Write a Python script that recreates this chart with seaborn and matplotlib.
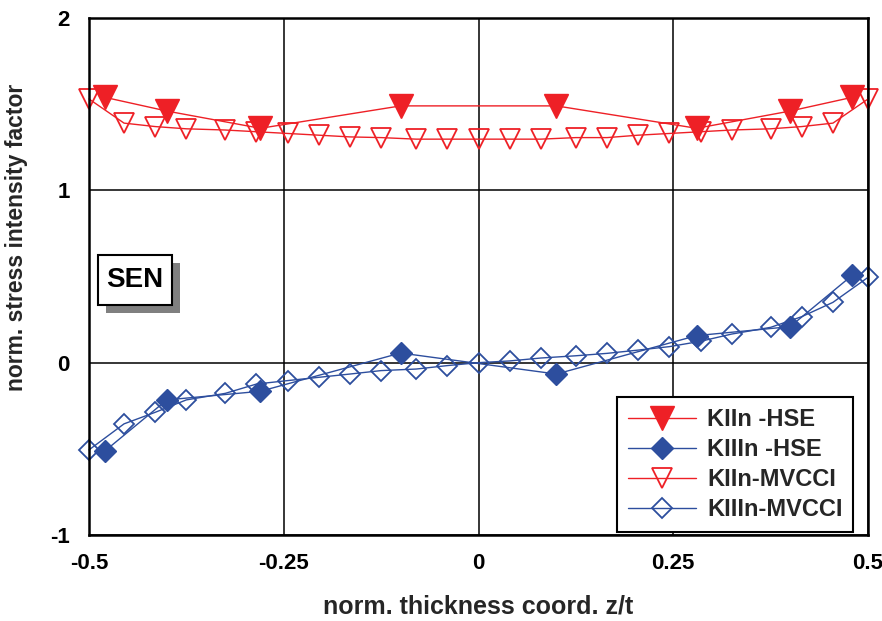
import matplotlib
matplotlib.use("Agg")
import matplotlib.pyplot as plt
import matplotlib.transforms as mtransforms
from matplotlib.patches import Rectangle
from matplotlib.ticker import FixedLocator
import seaborn as sns

# HSE results (8 positions through the thickness)
z_hse = [-0.48, -0.40, -0.28, -0.10, 0.10, 0.28, 0.40, 0.48]
k2_hse = [1.54, 1.46, 1.36, 1.49, 1.49, 1.36, 1.46, 1.54]
k3_hse = [-0.514, -0.216, -0.166, 0.056, -0.066, 0.157, 0.209, 0.508]

# MVCCI results (25 nodes through the thickness)
z_mvcci = [-0.5, -0.455, -0.415, -0.375, -0.325, -0.285, -0.245, -0.205, -0.165,
           -0.125, -0.08, -0.04, 0.0, 0.04, 0.08, 0.125, 0.165, 0.205, 0.245,
           0.285, 0.325, 0.375, 0.415, 0.455, 0.5]
k2_mvcci = [1.53, 1.39, 1.37, 1.357, 1.35, 1.34, 1.33, 1.32, 1.31, 1.306, 1.297,
            1.297, 1.297, 1.297, 1.297, 1.306, 1.306, 1.32, 1.33, 1.34, 1.35,
            1.357, 1.37, 1.39, 1.53]
k3_mvcci = [-0.506, -0.355, -0.288, -0.216, -0.178, -0.124, -0.104, -0.085, -0.066,
            -0.046, -0.037, -0.017, 0.0, 0.01, 0.027, 0.04, 0.054, 0.073, 0.093,
            0.124, 0.166, 0.205, 0.267, 0.35, 0.495]

x_ticks = [-0.5, -0.25, 0, 0.25, 0.5]
x_tick_labels = ["-0.5", "-0.25", "0", "0.25", "0.5"]
y_ticks = [-1, 0, 1, 2]
y_tick_labels = ["-1", "0", "1", "2"]

RED = "#EE2026"
BLUE = "#2D4E9E"

sns.set_style("white")
plt.rcParams["font.family"] = ["Liberation Sans", "DejaVu Sans"]
plt.rcParams["font.weight"] = "bold"

fig = plt.figure(figsize=(8.82, 6.21), dpi=100)
ax = fig.add_axes([89 / 882, 1 - 535 / 621, (868 - 89) / 882, (535 - 18) / 621])

# open markers first so the filled HSE markers sit on top
sns.lineplot(x=z_mvcci, y=k2_mvcci, ax=ax, estimator=None, sort=False,
             color=RED, lw=1.0, marker="v", markersize=15,
             markerfacecolor="none", markeredgecolor=RED, markeredgewidth=1.3)
h_k2_mv = ax.get_lines()[-1]
sns.lineplot(x=z_mvcci, y=k3_mvcci, ax=ax, estimator=None, sort=False,
             color=BLUE, lw=1.0, marker="D", markersize=10,
             markerfacecolor="none", markeredgecolor=BLUE, markeredgewidth=1.3)
h_k3_mv = ax.get_lines()[-1]
sns.lineplot(x=z_hse, y=k2_hse, ax=ax, estimator=None, sort=False,
             color=RED, lw=1.0, marker="v", markersize=17,
             markerfacecolor=RED, markeredgecolor=RED, markeredgewidth=1.0)
h_k2_hse = ax.get_lines()[-1]
sns.lineplot(x=z_hse, y=k3_hse, ax=ax, estimator=None, sort=False,
             color=BLUE, lw=1.0, marker="D", markersize=11.5,
             markerfacecolor=BLUE, markeredgecolor=BLUE, markeredgewidth=1.0)
h_k3_hse = ax.get_lines()[-1]
for ln in ax.get_lines():
    ln.set_clip_on(False)

ax.set_xlim(-0.5, 0.5)
ax.set_ylim(-1, 2)
ax.set_xticks(x_ticks)
ax.set_xticklabels(x_tick_labels)
ax.set_yticks(y_ticks)
ax.set_yticklabels(y_tick_labels)
ax.xaxis.set_minor_locator(FixedLocator([-0.375, -0.125, 0.125, 0.375]))
ax.yaxis.set_minor_locator(FixedLocator([-0.5, 0.5, 1.5]))
ax.tick_params(axis="both", which="both", direction="in", length=6, width=1.0,
               labelsize=16, colors="black")
ax.tick_params(axis="x", which="major", pad=13)
ax.tick_params(axis="y", which="major", pad=14)
for lab in ax.get_xticklabels() + ax.get_yticklabels():
    lab.set_fontweight("bold")

ax.grid(True, which="major", color="black", lw=1.1)
ax.set_axisbelow(True)
for sp in ax.spines.values():
    sp.set_visible(True)
    sp.set_color("black")
    sp.set_linewidth(1.8)

ax.set_xlabel("norm. thickness coord. z/t", fontsize=18, fontweight="bold")
ax.xaxis.label.set_verticalalignment("center")
ax.xaxis.set_label_coords(0.5, -0.139)
ax.set_ylabel("norm. stress intensity factor", fontsize=16.5, fontweight="bold")
ax.yaxis.set_label_coords(-0.078, 0.576)

leg = ax.legend(handles=[h_k2_hse, h_k3_hse, h_k2_mv, h_k3_mv],
                labels=["KIIn -HSE", "KIIIn -HSE", "KIIn-MVCCI", "KIIIn-MVCCI"],
                loc="lower right", bbox_to_anchor=(0.981, 0.006), borderaxespad=0,
                frameon=True, fancybox=False, framealpha=1, edgecolor="black",
                prop={"weight": "bold", "size": 17}, handlelength=2.9,
                labelspacing=0.3, borderpad=0.45, handletextpad=0.45)
leg.get_frame().set_linewidth(1.5)

# SEN label in a box with a grey drop shadow
shadow = mtransforms.offset_copy(ax.transAxes, fig=fig, x=8, y=-8, units="dots")
ax.add_patch(Rectangle((0.0116, 0.445), 0.095, 0.097, transform=shadow,
                       facecolor="#808080", edgecolor="none", zorder=5))
ax.add_patch(Rectangle((0.0116, 0.445), 0.095, 0.097, transform=ax.transAxes,
                       facecolor="white", edgecolor="black", lw=1.5, zorder=6))
ax.text(0.059, 0.493, "SEN", transform=ax.transAxes, ha="center", va="center",
        fontsize=20, fontweight="bold", color="black", zorder=7)

fig.savefig("out.png", dpi=100)
